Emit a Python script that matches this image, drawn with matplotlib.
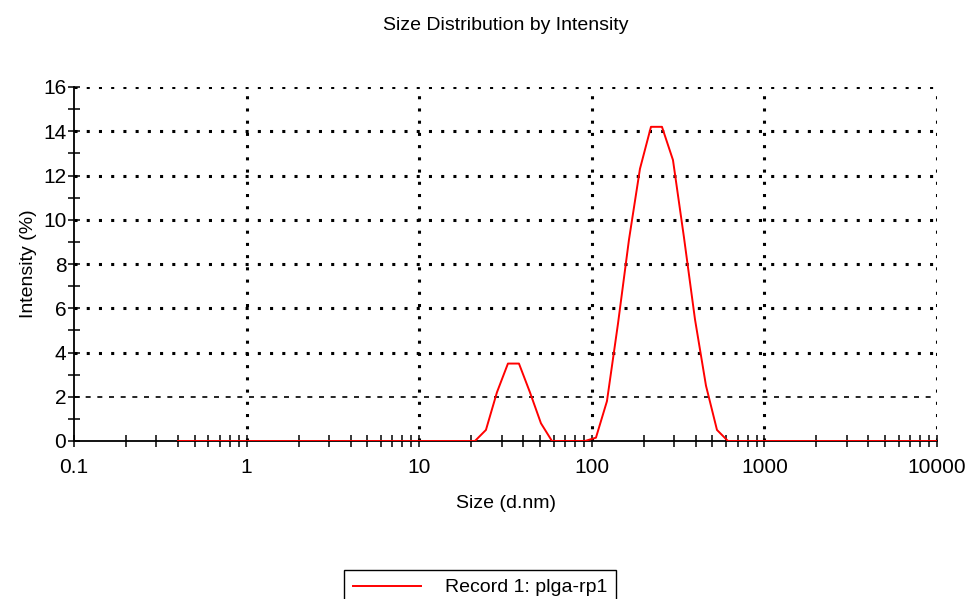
import matplotlib
matplotlib.use("Agg")
import matplotlib.pyplot as plt
from matplotlib.ticker import LogLocator, NullFormatter, MultipleLocator

plt.rcParams["font.family"] = ["Liberation Sans", "DejaVu Sans"]

# size bins (d.nm) and intensity (%)
sizes = [0.4, 0.4632, 0.5365, 0.6213, 0.7195, 0.8332, 0.9649, 1.117, 1.294, 1.499,
         1.736, 2.010, 2.328, 2.696, 3.122, 3.615, 4.187, 4.849, 5.615, 6.503,
         7.531, 8.721, 10.10, 11.70, 13.54, 15.69, 18.17, 21.04, 24.36, 28.21,
         32.67, 37.84, 43.82, 50.75, 58.77, 68.06, 78.82, 91.28, 105.7, 122.4,
         141.8, 164.2, 190.1, 220.2, 255.0, 295.3, 342.0, 396.1, 458.7, 531.2,
         615.1, 712.4, 825.0, 955.4, 1106, 1281, 1484, 1718, 1990, 2305,
         2669, 3091, 3580, 4145, 4801, 5560, 6439, 7456, 8635, 10000]
intensity = [0] * 27 + [0.0, 0.5, 2.2, 3.5, 3.5, 2.2, 0.8, 0.0,
             0.0, 0.0, 0.0, 0.15, 1.8, 5.3, 9.1, 12.3, 14.2, 14.2, 12.7,
             9.2, 5.5, 2.5, 0.5, 0.0] + [0] * 19

x_ticks = [0.1, 1, 10, 100, 1000, 10000]
x_ticklabels = ["0.1", "1", "10", "100", "1000", "10000"]
record_label = "Record 1: plga-rp1"

fig = plt.figure(figsize=(9.68, 5.99), dpi=100)
ax = fig.add_axes([74 / 968, 1 - 441 / 599, (937 - 74) / 968, (441 - 87) / 599])

ax.plot(sizes, intensity, color="red", lw=1.4, label=record_label, zorder=3)

ax.set_xscale("log")
ax.set_xlim(0.1, 10000)
ax.set_ylim(0, 16)
ax.set_xticks(x_ticks)
ax.set_xticklabels(x_ticklabels)
ax.xaxis.set_minor_locator(LogLocator(base=10, subs=range(2, 10)))
ax.xaxis.set_minor_formatter(NullFormatter())
ax.yaxis.set_major_locator(MultipleLocator(2))
ax.yaxis.set_minor_locator(MultipleLocator(1))

ax.tick_params(which="both", direction="inout", color="black", width=1.1, labelsize=15)
ax.tick_params(which="both", length=9)
ax.tick_params(axis="x", which="major", pad=8)
ax.tick_params(axis="y", which="major", pad=1)

for side in ["top", "right"]:
    ax.spines[side].set_visible(False)
for side in ["left", "bottom"]:
    ax.spines[side].set_linewidth(1.3)

ax.grid(True, which="major", color="black", linestyle=(0, (1, 3)), linewidth=2.2)
for line, val in zip(ax.get_ygridlines(), ax.get_yticks()):
    if val == 2:
        line.set_linestyle((0, (3, 4)))
        line.set_linewidth(1.2)
    if val == 0:
        line.set_visible(False)
ax.get_xgridlines()[0].set_visible(False)

ax.set_title("Size Distribution by Intensity", fontsize=14, pad=41)
ax.set_xlabel("Size (d.nm)", fontsize=14, labelpad=13)
ax.set_ylabel("Intensity (%)", fontsize=14, labelpad=4)

# legend box runs past the bottom edge, as in the original export
fig.legend(loc="upper center", bbox_to_anchor=(480 / 968, 1 - 570 / 599), fontsize=14,
           frameon=True, fancybox=False, edgecolor="black", framealpha=1,
           handlelength=3.5, handletextpad=1.2, borderpad=0.45, borderaxespad=0)

fig.savefig("out.png", dpi=100)
